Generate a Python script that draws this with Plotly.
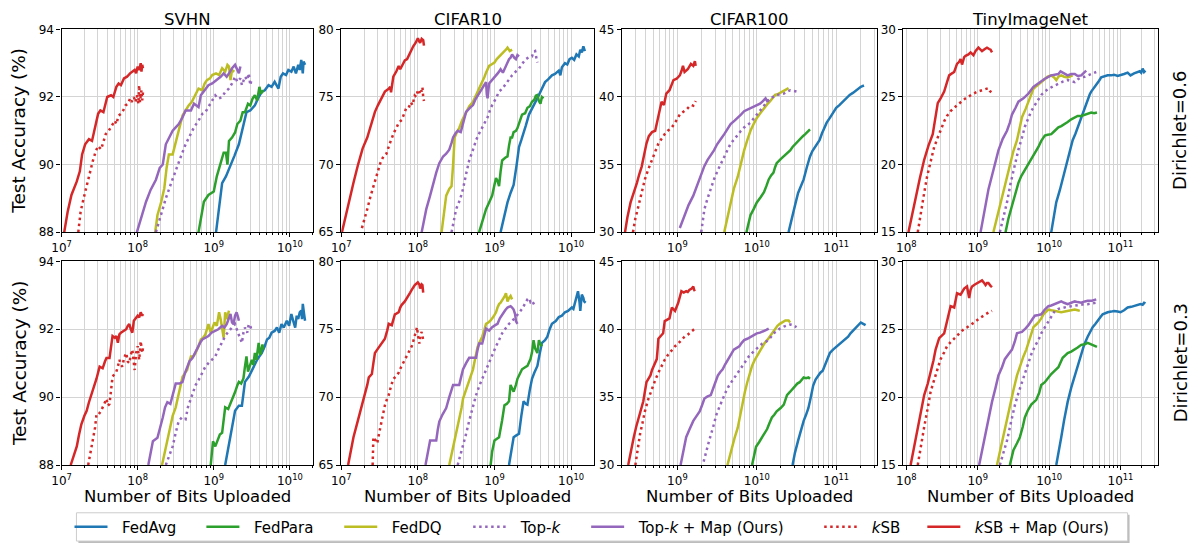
import plotly.graph_objects as go

# Each curve: (log10 of bits uploaded, test accuracy %)

# ---------------- SVHN, Dirichlet=0.6 ----------------
SVHN_06_FEDAVG = [(9.03,88.0),(9.07,88.8),(9.11,89.45),(9.16,89.65),(9.2,89.85),(9.27,90.25),(9.33,90.6),(9.38,91.1),(9.43,91.55),(9.48,91.6),(9.54,91.75),(9.58,91.95),(9.63,92.15),(9.67,92.2),(9.72,92.35),(9.76,92.3),(9.8,92.45),(9.85,92.25),(9.88,92.6),(9.91,92.7),(9.95,92.65),(9.98,92.8),(10.02,92.75),(10.05,92.9),(10.08,92.7),(10.11,92.95),(10.13,92.8),(10.15,93.1),(10.17,92.7),(10.18,93.05),(10.2,92.95)]
SVHN_06_FEDPARA = [(8.8,88.0),(8.84,88.5),(8.87,88.9),(8.93,89.1),(9.0,89.2),(9.04,89.65),(9.08,90.0),(9.13,90.35),(9.16,90.35),(9.18,90.0),(9.2,90.7),(9.24,90.8),(9.28,90.95),(9.31,91.2),(9.35,91.3),(9.38,91.55),(9.41,91.55),(9.45,91.8),(9.48,91.75),(9.51,91.95),(9.54,92.05),(9.57,91.9),(9.6,92.3),(9.62,92.1),(9.65,92.2)]
SVHN_06_FEDDQ = [(8.23,88.0),(8.26,88.5),(8.31,88.9),(8.35,89.3),(8.38,89.9),(8.41,90.3),(8.46,90.3),(8.49,90.55),(8.52,90.8),(8.56,91.2),(8.59,91.45),(8.63,91.6),(8.67,91.75),(8.71,91.85),(8.76,92.05),(8.8,92.25),(8.85,92.2),(8.88,92.4),(8.91,92.5),(8.95,92.55),(8.98,92.65),(9.03,92.7),(9.07,92.65),(9.11,92.85),(9.15,92.75),(9.18,92.95),(9.2,92.9),(9.22,92.5),(9.24,92.8),(9.27,92.75)]
SVHN_06_TOPK = [(8.24,88.0),(8.3,88.5),(8.37,89.0),(8.44,89.45),(8.5,89.85),(8.57,90.25),(8.63,90.6),(8.69,90.9),(8.74,91.1),(8.8,91.3),(8.85,91.5),(8.89,91.55),(8.93,91.7),(8.97,91.85),(9.02,92.05),(9.06,91.95),(9.11,92.0),(9.15,92.15),(9.2,92.25),(9.24,92.4),(9.28,92.6),(9.31,92.45),(9.35,92.55),(9.37,92.35),(9.41,92.6),(9.44,92.5),(9.46,92.7),(9.48,92.35),(9.5,92.55)]
SVHN_06_TOPK_MAP = [(7.99,88.0),(8.04,88.4),(8.11,88.9),(8.17,89.25),(8.24,89.55),(8.29,89.9),(8.33,90.0),(8.37,90.6),(8.42,90.85),(8.46,91.0),(8.5,91.1),(8.54,91.2),(8.59,91.4),(8.63,91.6),(8.7,91.6),(8.74,91.8),(8.8,91.7),(8.83,92.05),(8.88,92.2),(8.93,92.35),(8.98,92.4),(9.04,92.5),(9.09,92.6),(9.13,92.7),(9.17,92.6),(9.2,92.7),(9.24,92.85),(9.28,92.95),(9.31,92.8),(9.33,92.7),(9.35,92.9)]
SVHN_06_KSB = [(7.22,88.0),(7.25,88.6),(7.29,89.0),(7.33,89.4),(7.37,89.8),(7.41,90.1),(7.45,90.4),(7.48,90.55),(7.52,90.45),(7.55,90.7),(7.58,90.9),(7.62,91.0),(7.66,91.15),(7.7,91.3),(7.72,91.2),(7.75,91.45),(7.78,91.5),(7.81,91.6),(7.84,91.75),(7.87,91.8),(7.9,91.95),(7.92,91.85),(7.95,92.0),(7.97,91.85),(7.99,92.05),(8.01,91.8),(8.02,92.35),(8.03,91.85),(8.05,92.2),(8.06,91.9),(8.07,92.15)]
SVHN_06_KSB_MAP = [(7.035,88.0),(7.08,88.6),(7.13,89.1),(7.2,89.5),(7.24,89.8),(7.27,90.3),(7.31,90.6),(7.36,90.75),(7.4,90.7),(7.44,91.1),(7.48,91.5),(7.51,91.6),(7.55,91.55),(7.6,92.0),(7.65,92.05),(7.68,92.0),(7.72,92.3),(7.75,92.4),(7.78,92.35),(7.82,92.55),(7.86,92.6),(7.9,92.7),(7.93,92.75),(7.96,92.8),(7.98,92.7),(8.0,92.9),(8.02,92.8),(8.04,93.0),(8.05,92.75),(8.06,92.95),(8.07,92.85)]

# ---------------- SVHN, Dirichlet=0.3 ----------------
SVHN_03_FEDAVG = [(9.15,88.0),(9.19,88.5),(9.22,88.9),(9.25,89.3),(9.28,89.6),(9.33,89.75),(9.37,89.75),(9.39,90.1),(9.41,90.45),(9.46,90.6),(9.5,90.8),(9.54,91.0),(9.57,91.1),(9.6,91.2),(9.63,91.3),(9.67,91.5),(9.7,91.7),(9.73,91.75),(9.76,91.9),(9.8,91.95),(9.83,92.05),(9.86,91.9),(9.89,92.15),(9.92,92.05),(9.96,92.25),(9.99,92.1),(10.02,92.45),(10.05,92.2),(10.07,92.05),(10.09,92.4),(10.11,92.3),(10.13,92.5),(10.15,92.55),(10.16,92.3),(10.17,92.75),(10.19,92.4),(10.2,92.25)]
SVHN_03_FEDPARA = [(8.96,88.0),(8.98,88.5),(8.99,88.7),(9.02,88.55),(9.04,88.65),(9.08,88.9),(9.11,88.95),(9.13,89.4),(9.15,89.7),(9.19,89.65),(9.22,89.8),(9.25,90.0),(9.28,90.15),(9.31,90.35),(9.33,90.45),(9.36,90.4),(9.39,90.55),(9.41,90.9),(9.43,91.2),(9.45,90.75),(9.47,90.9),(9.5,91.1),(9.52,90.95),(9.54,91.3),(9.56,91.1),(9.59,91.6),(9.61,91.25),(9.62,91.3),(9.64,91.55),(9.65,91.4)]
SVHN_03_FEDDQ = [(8.32,88.0),(8.36,88.4),(8.39,88.7),(8.43,89.1),(8.46,89.45),(8.5,89.7),(8.52,89.9),(8.56,90.3),(8.59,90.6),(8.62,90.7),(8.65,90.8),(8.68,91.05),(8.7,91.2),(8.73,91.2),(8.76,91.3),(8.8,91.5),(8.83,91.7),(8.86,91.75),(8.89,91.85),(8.91,92.0),(8.93,92.15),(8.96,91.9),(8.98,92.0),(9.01,92.2),(9.04,92.1),(9.07,92.5),(9.09,92.3),(9.11,92.05),(9.13,91.75),(9.15,92.5),(9.17,92.3),(9.2,92.55)]
SVHN_03_TOPK = [(8.37,88.0),(8.42,88.3),(8.46,88.55),(8.5,88.95),(8.54,89.3),(8.58,89.4),(8.63,89.35),(8.66,89.7),(8.7,89.95),(8.73,90.2),(8.76,90.35),(8.8,90.5),(8.85,90.75),(8.89,90.9),(8.93,91.0),(8.97,91.1),(9.02,91.2),(9.06,91.4),(9.11,91.6),(9.15,91.8),(9.2,91.95),(9.24,92.05),(9.28,92.15),(9.31,91.95),(9.33,91.85),(9.35,91.75),(9.37,91.6),(9.39,91.9),(9.41,92.05),(9.44,91.9),(9.46,92.15),(9.48,92.1),(9.5,91.95)]
SVHN_03_TOPK_MAP = [(8.14,88.0),(8.17,88.4),(8.2,88.7),(8.26,88.8),(8.3,89.1),(8.33,89.4),(8.36,89.7),(8.39,89.85),(8.43,89.8),(8.46,90.1),(8.5,90.4),(8.55,90.4),(8.59,90.45),(8.62,90.7),(8.65,90.9),(8.68,91.05),(8.72,91.15),(8.75,91.3),(8.78,91.4),(8.82,91.6),(8.85,91.7),(8.89,91.75),(8.93,91.8),(8.97,91.9),(9.02,91.95),(9.06,92.0),(9.11,92.1),(9.14,92.05),(9.17,92.15),(9.2,92.3),(9.22,92.45),(9.24,92.2),(9.26,92.15),(9.28,92.4),(9.3,92.5),(9.32,92.35),(9.33,92.25)]
SVHN_03_KSB = [(7.35,88.0),(7.38,88.35),(7.41,88.7),(7.44,89.1),(7.46,89.5),(7.49,89.5),(7.52,89.6),(7.55,89.75),(7.57,89.85),(7.59,89.95),(7.61,89.75),(7.63,89.8),(7.65,90.2),(7.67,90.6),(7.7,90.7),(7.72,90.75),(7.74,90.9),(7.76,91.1),(7.78,90.95),(7.8,90.9),(7.82,91.15),(7.85,91.3),(7.87,91.05),(7.89,91.0),(7.91,91.25),(7.93,91.4),(7.95,91.0),(7.96,90.8),(7.98,91.3),(8.0,91.5),(8.02,91.1),(8.03,91.35),(8.04,91.65),(8.06,91.3),(8.07,91.45)]
SVHN_03_KSB_MAP = [(7.12,88.0),(7.16,88.3),(7.2,88.55),(7.23,88.9),(7.26,89.2),(7.3,89.45),(7.33,89.6),(7.36,89.85),(7.39,90.05),(7.43,90.3),(7.46,90.55),(7.5,90.9),(7.54,90.85),(7.57,91.05),(7.59,91.15),(7.63,91.15),(7.65,91.45),(7.67,91.8),(7.7,91.75),(7.72,91.8),(7.74,91.6),(7.76,91.85),(7.78,91.9),(7.82,91.95),(7.85,92.0),(7.87,92.1),(7.89,92.15),(7.91,92.0),(7.93,91.9),(7.95,92.25),(7.97,92.3),(8.0,92.4),(8.02,92.35),(8.04,92.5),(8.06,92.4),(8.07,92.45)]

# ---------------- CIFAR10, Dirichlet=0.6 ----------------
CIFAR10_06_FEDAVG = [(9.08,65.0),(9.12,66.0),(9.17,67.2),(9.21,67.9),(9.25,68.5),(9.29,70.0),(9.32,71.3),(9.35,71.8),(9.38,72.3),(9.41,72.9),(9.45,73.7),(9.48,74.0),(9.51,74.4),(9.55,74.8),(9.58,75.15),(9.62,75.6),(9.66,76.1),(9.7,76.3),(9.75,76.6),(9.79,76.7),(9.84,76.95),(9.86,76.6),(9.88,77.2),(9.92,77.5),(9.95,77.4),(9.98,77.8),(10.01,77.9),(10.04,77.75),(10.07,78.15),(10.1,78.0),(10.12,78.5),(10.14,78.3),(10.16,78.75),(10.18,78.4)]
CIFAR10_06_FEDPARA = [(8.8,65.0),(8.85,66.0),(8.89,66.7),(8.93,67.2),(8.97,67.7),(9.0,68.5),(9.02,69.0),(9.04,68.8),(9.06,68.4),(9.08,69.5),(9.1,70.3),(9.14,70.5),(9.17,70.6),(9.19,71.4),(9.21,72.0),(9.23,72.0),(9.25,72.4),(9.28,72.5),(9.3,72.7),(9.33,73.2),(9.36,73.7),(9.4,73.8),(9.43,74.2),(9.46,74.3),(9.49,74.65),(9.52,74.8),(9.54,75.1),(9.56,75.15),(9.58,74.7),(9.6,74.5),(9.62,75.0),(9.64,74.9)]
CIFAR10_06_FEDDQ = [(8.31,65.0),(8.34,66.5),(8.37,67.7),(8.41,68.2),(8.44,68.4),(8.46,70.0),(8.48,72.0),(8.51,72.4),(8.54,72.7),(8.58,73.3),(8.63,73.9),(8.67,74.3),(8.72,74.65),(8.75,75.0),(8.78,75.4),(8.81,75.8),(8.84,76.1),(8.87,76.5),(8.89,76.8),(8.91,77.0),(8.93,77.3),(8.96,77.4),(9.0,77.55),(9.03,77.8),(9.06,78.0),(9.09,78.2),(9.13,78.4),(9.15,78.5),(9.17,78.65),(9.2,78.4),(9.23,78.5)]
CIFAR10_06_TOPK = [(8.44,65.0),(8.47,66.0),(8.5,66.7),(8.55,67.4),(8.59,68.2),(8.63,69.3),(8.67,70.3),(8.72,71.1),(8.76,71.8),(8.8,72.3),(8.84,72.7),(8.88,73.1),(8.91,73.5),(8.94,74.0),(8.97,74.4),(9.02,74.9),(9.06,75.4),(9.1,75.6),(9.15,76.0),(9.19,76.3),(9.23,76.6),(9.28,76.9),(9.32,77.1),(9.36,77.45),(9.41,77.8),(9.45,77.95),(9.49,78.0),(9.51,78.35),(9.53,78.4),(9.55,77.8),(9.56,77.55)]
CIFAR10_06_TOPK_MAP = [(8.05,65.0),(8.08,65.8),(8.11,66.7),(8.16,67.7),(8.2,68.6),(8.24,69.4),(8.28,70.1),(8.33,70.6),(8.37,70.8),(8.41,71.1),(8.44,71.6),(8.46,72.0),(8.49,72.3),(8.52,72.5),(8.56,72.4),(8.6,73.3),(8.63,73.9),(8.68,74.2),(8.72,74.4),(8.75,74.8),(8.78,75.1),(8.81,75.4),(8.84,75.6),(8.87,75.9),(8.89,76.1),(8.9,75.2),(8.91,74.9),(8.93,76.0),(8.97,76.3),(9.02,76.6),(9.05,76.8),(9.08,77.05),(9.11,76.8),(9.15,77.3),(9.19,77.8),(9.21,77.9),(9.23,78.15),(9.26,77.9),(9.28,77.8),(9.3,78.1),(9.32,78.0)]
CIFAR10_06_KSB = [(7.27,65.3),(7.3,66.0),(7.34,66.7),(7.38,67.6),(7.42,68.4),(7.46,69.2),(7.49,69.8),(7.51,70.1),(7.55,70.6),(7.59,70.8),(7.63,71.5),(7.66,72.0),(7.69,72.4),(7.72,72.7),(7.75,73.1),(7.79,73.3),(7.82,73.7),(7.85,74.2),(7.88,74.2),(7.91,74.6),(7.93,74.4),(7.96,75.1),(7.98,75.0),(8.0,75.5),(8.02,75.3),(8.04,75.6),(8.05,75.4),(8.06,75.7),(8.07,75.0),(8.08,74.7)]
CIFAR10_06_KSB_MAP = [(7.01,65.0),(7.05,66.0),(7.1,67.2),(7.16,68.65),(7.22,70.0),(7.28,71.2),(7.34,72.0),(7.39,73.0),(7.44,73.9),(7.48,74.4),(7.53,74.9),(7.57,75.4),(7.62,75.6),(7.64,75.75),(7.65,75.35),(7.68,76.5),(7.72,76.9),(7.75,77.3),(7.77,77.05),(7.8,77.4),(7.83,77.7),(7.86,77.8),(7.88,78.05),(7.91,78.4),(7.94,78.75),(7.97,79.0),(8.0,79.35),(8.02,79.1),(8.03,79.0),(8.05,79.3),(8.07,79.2),(8.08,78.8)]

# ---------------- CIFAR10, Dirichlet=0.3 ----------------
CIFAR10_03_FEDAVG = [(9.19,65.0),(9.22,66.0),(9.25,67.05),(9.29,67.2),(9.32,67.3),(9.35,68.6),(9.38,69.7),(9.41,69.5),(9.43,69.45),(9.46,70.5),(9.49,71.35),(9.52,71.8),(9.56,72.3),(9.59,73.2),(9.62,74.0),(9.66,74.2),(9.69,74.45),(9.72,75.0),(9.75,75.4),(9.8,75.6),(9.84,75.9),(9.88,76.0),(9.92,76.25),(9.96,76.35),(10.01,76.6),(10.03,76.5),(10.05,76.95),(10.07,77.2),(10.09,77.8),(10.11,77.0),(10.12,76.35),(10.13,77.0),(10.14,77.55),(10.16,77.3),(10.17,77.05),(10.19,76.95)]
CIFAR10_03_FEDPARA = [(8.95,65.0),(8.97,66.0),(9.0,66.8),(9.03,66.9),(9.06,67.05),(9.1,68.3),(9.13,69.4),(9.16,69.5),(9.19,69.7),(9.21,70.9),(9.23,70.6),(9.25,70.4),(9.28,70.9),(9.3,71.35),(9.33,71.7),(9.36,72.05),(9.4,72.2),(9.43,72.3),(9.47,72.8),(9.49,73.3),(9.51,74.2),(9.53,73.6),(9.56,73.25),(9.58,74.2),(9.6,73.9),(9.62,73.75)]
CIFAR10_03_FEDDQ = [(8.41,65.0),(8.45,66.0),(8.48,66.8),(8.51,67.5),(8.54,68.2),(8.57,69.2),(8.59,69.9),(8.62,70.4),(8.65,70.9),(8.69,71.5),(8.72,72.05),(8.75,72.9),(8.78,73.7),(8.81,74.1),(8.84,74.45),(8.87,75.0),(8.89,75.4),(8.92,75.5),(8.95,75.65),(8.99,75.95),(9.02,76.25),(9.04,76.6),(9.06,76.85),(9.08,76.95),(9.1,77.1),(9.13,77.4),(9.15,77.65),(9.16,77.3),(9.17,77.05),(9.19,77.3),(9.21,77.45),(9.23,77.2)]
CIFAR10_03_TOPK = [(8.52,65.0),(8.55,65.6),(8.59,66.35),(8.63,67.3),(8.67,68.25),(8.71,69.2),(8.76,70.15),(8.8,70.8),(8.84,71.35),(8.89,72.0),(8.93,72.55),(8.97,73.2),(9.02,73.75),(9.06,74.2),(9.1,74.7),(9.15,75.1),(9.19,75.4),(9.23,75.6),(9.28,75.9),(9.32,76.2),(9.36,76.5),(9.39,76.85),(9.41,77.05),(9.43,77.2),(9.45,77.3),(9.47,77.0),(9.49,77.1),(9.51,76.9),(9.53,76.7)]
CIFAR10_03_TOPK_MAP = [(8.1,65.0),(8.13,65.9),(8.16,66.8),(8.2,66.8),(8.24,66.8),(8.26,67.6),(8.28,68.2),(8.32,68.7),(8.37,69.2),(8.41,70.0),(8.46,70.9),(8.5,70.9),(8.54,70.9),(8.57,71.6),(8.59,72.05),(8.63,72.5),(8.67,72.9),(8.72,72.9),(8.76,72.9),(8.78,73.5),(8.8,73.95),(8.84,73.95),(8.86,74.5),(8.89,75.05),(8.93,74.9),(8.97,75.15),(9.01,75.3),(9.04,75.4),(9.07,75.8),(9.1,76.1),(9.14,76.4),(9.17,76.6),(9.21,76.7),(9.23,76.6),(9.25,76.45),(9.27,76.1),(9.28,75.6),(9.3,75.4)]
CIFAR10_03_KSB = [(7.41,65.0),(7.42,67.05),(7.45,66.8),(7.47,66.6),(7.49,67.2),(7.51,67.8),(7.54,68.6),(7.57,69.4),(7.6,69.9),(7.62,70.15),(7.65,70.8),(7.68,71.35),(7.71,71.5),(7.75,71.8),(7.78,72.2),(7.81,72.55),(7.84,72.9),(7.88,73.25),(7.9,73.5),(7.92,73.75),(7.94,74.1),(7.96,74.45),(7.98,74.9),(7.99,75.15),(8.0,74.6),(8.02,73.95),(8.03,74.5),(8.05,74.8),(8.06,74.5),(8.07,74.2)]
CIFAR10_03_KSB_MAP = [(7.09,65.0),(7.12,66.0),(7.16,67.05),(7.2,67.9),(7.23,68.5),(7.26,69.2),(7.29,69.9),(7.32,70.5),(7.34,70.9),(7.36,71.45),(7.4,71.7),(7.42,72.5),(7.44,73.25),(7.47,73.5),(7.51,73.85),(7.54,74.1),(7.57,74.3),(7.6,74.9),(7.62,75.4),(7.66,75.3),(7.7,76.1),(7.72,76.15),(7.75,76.25),(7.77,76.6),(7.79,76.8),(7.83,77.05),(7.86,77.3),(7.88,77.55),(7.9,77.7),(7.92,77.9),(7.94,78.1),(7.96,78.25),(7.98,78.35),(8.0,78.45),(8.02,78.3),(8.03,78.0),(8.05,78.3),(8.06,78.25),(8.07,77.7)]

# ---------------- CIFAR100, Dirichlet=0.6 ----------------
CIFAR100_06_FEDAVG = [(10.4,30.0),(10.43,30.8),(10.46,31.5),(10.49,32.2),(10.52,32.9),(10.55,33.4),(10.59,33.9),(10.63,34.8),(10.67,35.6),(10.7,36.0),(10.73,36.3),(10.76,36.6),(10.79,36.8),(10.82,37.3),(10.85,37.75),(10.88,38.1),(10.92,38.45),(10.96,38.8),(11.0,39.2),(11.04,39.4),(11.08,39.65),(11.12,39.9),(11.17,40.15),(11.21,40.3),(11.25,40.5),(11.28,40.6),(11.31,40.75),(11.33,40.8),(11.35,40.85)]
CIFAR100_06_FEDPARA = [(9.87,30.0),(9.9,30.8),(9.92,31.25),(9.96,31.7),(10.0,32.2),(10.05,32.6),(10.09,32.95),(10.12,33.4),(10.15,33.9),(10.18,34.2),(10.21,34.4),(10.23,34.8),(10.25,35.1),(10.3,35.4),(10.34,35.6),(10.38,35.8),(10.42,36.05),(10.45,36.3),(10.48,36.5),(10.51,36.7),(10.54,36.9),(10.58,37.1),(10.61,37.25),(10.64,37.45),(10.67,37.6)]
CIFAR100_06_FEDDQ = [(9.59,30.0),(9.63,31.1),(9.67,32.2),(9.71,33.2),(9.76,34.1),(9.8,35.1),(9.84,36.05),(9.88,36.8),(9.92,37.5),(9.96,38.0),(10.0,38.45),(10.05,38.85),(10.09,39.2),(10.13,39.45),(10.17,39.7),(10.2,39.95),(10.23,40.15),(10.26,40.2),(10.29,40.3),(10.33,40.4),(10.36,40.5),(10.38,40.6),(10.4,40.65)]
CIFAR100_06_TOPK = [(9.3,30.0),(9.34,31.7),(9.38,32.5),(9.42,33.2),(9.46,33.9),(9.51,34.6),(9.55,35.1),(9.59,35.6),(9.63,36.1),(9.67,36.55),(9.72,36.9),(9.76,37.25),(9.8,37.5),(9.84,37.75),(9.88,37.95),(9.92,38.1),(9.96,38.4),(10.0,38.7),(10.04,39.05),(10.09,39.4),(10.13,39.65),(10.17,39.9),(10.21,40.0),(10.25,40.15),(10.3,40.2),(10.34,40.25),(10.38,40.4),(10.42,40.5),(10.46,40.45),(10.5,40.4)]
CIFAR100_06_TOPK_MAP = [(9.03,30.3),(9.06,30.8),(9.09,31.25),(9.14,32.0),(9.2,32.7),(9.25,33.5),(9.3,34.4),(9.34,34.9),(9.38,35.35),(9.42,35.7),(9.46,36.05),(9.5,36.5),(9.53,36.8),(9.56,37.0),(9.59,37.25),(9.63,37.6),(9.67,38.0),(9.72,38.25),(9.76,38.45),(9.8,38.7),(9.84,38.95),(9.88,39.05),(9.92,39.2),(9.96,39.3),(10.0,39.4),(10.04,39.5),(10.07,39.65),(10.09,39.8),(10.11,39.9),(10.13,39.7),(10.15,39.8)]
CIFAR100_06_KSB = [(8.44,30.0),(8.47,31.0),(8.51,31.95),(8.55,32.9),(8.59,33.9),(8.63,34.6),(8.68,35.35),(8.72,35.9),(8.76,36.55),(8.8,36.9),(8.84,37.25),(8.88,37.5),(8.93,37.75),(8.97,38.1),(9.0,38.4),(9.03,38.7),(9.06,38.85),(9.09,38.95),(9.12,39.1),(9.15,39.3),(9.18,39.4),(9.2,39.35),(9.22,39.55),(9.23,39.7)]
CIFAR100_06_KSB_MAP = [(8.34,30.0),(8.37,31.1),(8.41,32.2),(8.45,32.9),(8.49,33.65),(8.52,34.3),(8.55,34.85),(8.58,35.7),(8.61,36.55),(8.64,37.1),(8.68,37.4),(8.72,37.5),(8.74,38.1),(8.76,38.7),(8.78,39.2),(8.8,39.65),(8.83,39.4),(8.86,40.25),(8.9,40.5),(8.93,40.9),(8.95,41.25),(8.99,41.35),(9.03,41.6),(9.05,41.9),(9.07,42.3),(9.09,41.85),(9.11,41.95),(9.13,42.05),(9.15,42.25),(9.17,42.45),(9.2,42.3),(9.22,42.65),(9.23,42.3)]

# ---------------- CIFAR100, Dirichlet=0.3 ----------------
CIFAR100_03_FEDAVG = [(10.45,30.0),(10.48,30.9),(10.52,31.8),(10.55,32.5),(10.59,33.25),(10.62,33.7),(10.65,34.2),(10.68,35.0),(10.71,35.85),(10.74,36.3),(10.77,36.6),(10.8,36.8),(10.83,36.95),(10.86,37.4),(10.88,37.75),(10.9,38.0),(10.92,38.25),(10.96,38.5),(11.0,38.7),(11.04,38.9),(11.08,39.1),(11.12,39.3),(11.15,39.45),(11.18,39.7),(11.21,39.9),(11.24,40.1),(11.27,40.3),(11.29,40.4),(11.31,40.5),(11.34,40.4),(11.37,40.3)]
CIFAR100_03_FEDPARA = [(9.94,30.0),(9.97,30.8),(9.99,31.35),(10.03,31.7),(10.07,32.05),(10.1,32.4),(10.13,32.65),(10.16,33.1),(10.19,33.5),(10.22,33.7),(10.25,33.95),(10.3,34.2),(10.34,34.45),(10.36,34.8),(10.38,35.15),(10.42,35.4),(10.45,35.6),(10.48,35.85),(10.51,36.0),(10.54,36.1),(10.57,36.3),(10.59,36.45),(10.62,36.4),(10.65,36.45),(10.67,36.35)]
CIFAR100_03_FEDDQ = [(9.63,30.0),(9.66,30.7),(9.69,31.35),(9.72,32.0),(9.76,32.75),(9.79,33.7),(9.82,34.65),(9.85,35.4),(9.88,36.1),(9.91,36.7),(9.94,37.3),(9.97,37.7),(10.0,38.0),(10.04,38.4),(10.07,38.75),(10.1,39.0),(10.13,39.2),(10.16,39.45),(10.19,39.7),(10.23,40.05),(10.26,40.25),(10.29,40.4),(10.33,40.55),(10.36,40.65),(10.4,40.65),(10.42,40.5)]
CIFAR100_03_TOPK = [(9.33,30.25),(9.36,31.0),(9.4,31.8),(9.45,32.8),(9.49,33.7),(9.53,34.3),(9.57,34.9),(9.61,35.4),(9.65,35.85),(9.69,36.2),(9.73,36.6),(9.78,36.95),(9.82,37.3),(9.86,37.65),(9.9,38.0),(9.94,38.25),(9.98,38.5),(10.03,38.75),(10.07,38.95),(10.11,39.1),(10.15,39.2),(10.18,39.45),(10.21,39.7),(10.25,39.85),(10.29,40.05),(10.34,40.2),(10.38,40.3),(10.42,40.35),(10.46,40.3),(10.5,40.15)]
CIFAR100_03_TOPK_MAP = [(9.04,30.0),(9.07,31.0),(9.11,32.05),(9.15,32.6),(9.2,33.25),(9.24,33.6),(9.28,33.95),(9.31,34.4),(9.34,34.9),(9.38,35.05),(9.42,35.15),(9.46,35.8),(9.51,36.6),(9.54,36.85),(9.57,37.05),(9.6,37.4),(9.63,37.75),(9.67,38.1),(9.71,38.5),(9.74,38.6),(9.78,38.75),(9.81,39.0),(9.84,39.2),(9.88,39.3),(9.92,39.45),(9.96,39.55),(10.0,39.7),(10.04,39.75),(10.09,39.85),(10.12,39.95),(10.15,40.05)]
CIFAR100_03_KSB = [(8.47,30.0),(8.5,31.2),(8.53,32.3),(8.56,33.1),(8.59,33.95),(8.63,34.8),(8.68,35.65),(8.72,36.25),(8.76,36.8),(8.8,37.3),(8.84,37.75),(8.88,38.1),(8.93,38.5),(8.97,38.75),(9.01,38.95),(9.05,39.2),(9.09,39.45),(9.13,39.6),(9.17,39.8),(9.2,39.9),(9.22,40.05)]
CIFAR100_03_KSB_MAP = [(8.38,30.0),(8.41,31.0),(8.45,32.05),(8.48,32.8),(8.51,33.5),(8.54,34.1),(8.57,34.7),(8.59,35.4),(8.61,36.1),(8.64,36.4),(8.66,36.6),(8.68,37.0),(8.7,37.3),(8.72,37.6),(8.74,37.8),(8.75,38.5),(8.76,39.3),(8.79,39.5),(8.82,39.7),(8.84,40.6),(8.87,40.7),(8.9,40.8),(8.93,41.6),(8.95,41.5),(8.97,41.35),(9.01,41.95),(9.03,42.4),(9.05,42.8),(9.08,42.7),(9.11,42.8),(9.13,42.75),(9.15,42.9),(9.18,43.0),(9.2,43.15),(9.21,42.9),(9.22,42.8)]

# ---------------- TinyImageNet, Dirichlet=0.6 ----------------
TINY_06_FEDAVG = [(10.03,15.0),(10.06,16.1),(10.1,17.2),(10.15,18.1),(10.19,18.9),(10.22,19.6),(10.26,20.35),(10.3,21.1),(10.33,21.8),(10.37,22.3),(10.4,22.75),(10.44,23.3),(10.47,23.7),(10.51,24.3),(10.54,24.9),(10.57,25.2),(10.59,25.4),(10.62,25.6),(10.66,25.85),(10.7,26.2),(10.73,26.45),(10.78,26.55),(10.82,26.6),(10.87,26.6),(10.91,26.65),(10.96,26.55),(11.0,26.6),(11.05,26.7),(11.1,26.8),(11.14,26.6),(11.19,26.75),(11.23,26.85),(11.27,26.9),(11.29,26.8),(11.31,27.1),(11.33,26.85),(11.35,26.95)]
TINY_06_FEDPARA = [(9.39,15.0),(9.43,16.0),(9.48,16.95),(9.52,17.8),(9.57,18.65),(9.61,19.15),(9.66,19.6),(9.7,19.95),(9.75,20.35),(9.8,20.8),(9.85,21.3),(9.89,21.75),(9.94,22.15),(9.98,22.2),(10.03,22.25),(10.08,22.5),(10.13,22.75),(10.17,22.85),(10.22,23.0),(10.26,23.15),(10.31,23.35),(10.35,23.45),(10.4,23.6),(10.45,23.6),(10.5,23.7),(10.54,23.75),(10.59,23.85),(10.63,23.8),(10.67,23.85)]
TINY_06_FEDDQ = [(9.22,15.0),(9.28,16.3),(9.34,17.7),(9.4,19.0),(9.45,20.1),(9.5,21.0),(9.55,21.8),(9.59,22.7),(9.62,23.5),(9.67,24.1),(9.71,24.65),(9.75,25.2),(9.78,25.6),(9.82,25.8),(9.87,26.0),(9.91,26.2),(9.94,26.35),(9.98,26.5),(10.03,26.6),(10.07,26.45),(10.1,26.25),(10.13,26.5),(10.17,26.6),(10.21,26.5),(10.26,26.45),(10.3,26.55),(10.33,26.6)]
TINY_06_TOPK = [(9.31,15.0),(9.36,16.1),(9.41,17.2),(9.46,18.6),(9.52,20.1),(9.57,21.1),(9.62,22.0),(9.66,22.8),(9.71,23.45),(9.75,23.95),(9.8,24.4),(9.85,24.8),(9.89,25.15),(9.94,25.4),(9.99,25.6),(10.06,25.8),(10.13,26.0),(10.2,26.15),(10.26,26.25),(10.31,26.2),(10.36,26.1),(10.4,26.3),(10.45,26.45),(10.5,26.5),(10.54,26.6),(10.6,26.7),(10.66,26.85)]
TINY_06_TOPK_MAP = [(9.04,15.0),(9.09,16.5),(9.15,18.15),(9.22,19.6),(9.29,21.05),(9.35,21.9),(9.41,22.5),(9.45,23.1),(9.48,23.7),(9.53,24.2),(9.57,24.65),(9.64,24.9),(9.71,25.25),(9.78,25.75),(9.85,26.0),(9.94,26.35),(10.03,26.6),(10.08,26.65),(10.13,26.7),(10.16,26.9),(10.19,26.8),(10.23,26.65),(10.26,26.6),(10.31,26.7),(10.36,26.7),(10.4,26.55),(10.45,26.6),(10.49,26.8),(10.52,26.95)]
TINY_06_KSB = [(8.16,15.0),(8.2,16.4),(8.25,17.9),(8.29,19.1),(8.34,20.3),(8.39,21.3),(8.44,22.0),(8.48,22.6),(8.53,23.2),(8.57,23.6),(8.62,23.95),(8.67,24.2),(8.71,24.4),(8.77,24.65),(8.83,24.9),(8.89,25.1),(8.94,25.25),(9.0,25.4),(9.06,25.5),(9.11,25.6),(9.15,25.65),(9.17,25.45),(9.19,25.35)]
TINY_06_KSB_MAP = [(8.03,15.0),(8.08,16.3),(8.13,17.7),(8.19,19.0),(8.25,20.35),(8.31,21.4),(8.37,22.25),(8.41,23.5),(8.44,24.55),(8.48,24.9),(8.53,25.4),(8.57,26.1),(8.6,26.6),(8.64,26.75),(8.67,26.85),(8.71,27.45),(8.74,27.6),(8.76,27.8),(8.78,27.4),(8.81,27.95),(8.83,28.05),(8.87,28.15),(8.9,28.3),(8.94,28.1),(8.97,28.4),(9.01,28.65),(9.04,28.45),(9.06,28.4),(9.1,28.55),(9.13,28.65),(9.16,28.55),(9.18,28.5),(9.2,28.3)]

# ---------------- TinyImageNet, Dirichlet=0.3 ----------------
TINY_03_FEDAVG = [(10.1,15.0),(10.13,16.0),(10.17,17.05),(10.21,18.3),(10.26,19.65),(10.31,20.7),(10.36,21.6),(10.4,22.4),(10.45,23.25),(10.49,23.85),(10.54,24.45),(10.58,24.85),(10.61,25.15),(10.65,25.4),(10.68,25.65),(10.72,25.9),(10.75,26.1),(10.79,26.2),(10.82,26.25),(10.87,26.3),(10.91,26.35),(10.96,26.3),(11.0,26.25),(11.05,26.4),(11.1,26.6),(11.15,26.65),(11.19,26.7),(11.24,26.75),(11.28,26.85),(11.31,26.8),(11.33,26.95),(11.35,26.9)]
TINY_03_FEDPARA = [(9.45,15.0),(9.48,15.7),(9.5,16.1),(9.55,16.6),(9.59,17.05),(9.63,17.8),(9.66,18.5),(9.7,19.0),(9.75,19.45),(9.79,19.65),(9.82,19.8),(9.86,20.3),(9.89,20.9),(9.94,21.1),(9.99,21.45),(10.03,21.7),(10.08,21.95),(10.13,22.2),(10.16,22.55),(10.19,22.9),(10.23,23.1),(10.26,23.25),(10.31,23.35),(10.36,23.5),(10.4,23.65),(10.45,23.85),(10.5,23.9),(10.54,24.0),(10.58,23.9),(10.61,23.85),(10.64,23.8),(10.67,23.7)]
TINY_03_FEDDQ = [(9.27,15.0),(9.32,16.2),(9.36,17.3),(9.41,18.4),(9.45,19.45),(9.5,20.5),(9.55,21.6),(9.6,22.4),(9.64,23.0),(9.68,23.5),(9.71,24.0),(9.75,24.7),(9.78,25.15),(9.82,25.35),(9.85,25.5),(9.89,25.8),(9.92,26.1),(9.96,26.3),(9.99,26.45),(10.03,26.4),(10.08,26.35),(10.13,26.3),(10.17,26.25),(10.22,26.3),(10.26,26.35),(10.31,26.4),(10.36,26.45),(10.4,26.4),(10.43,26.35)]
TINY_03_TOPK = [(9.31,15.0),(9.36,15.9),(9.41,16.8),(9.46,18.0),(9.52,19.4),(9.57,20.3),(9.62,21.1),(9.66,21.8),(9.71,22.55),(9.75,23.15),(9.8,23.75),(9.85,24.2),(9.89,24.7),(9.94,25.15),(9.99,25.65),(10.03,26.0),(10.08,26.35),(10.13,26.5),(10.19,26.6),(10.25,26.65),(10.31,26.7),(10.38,26.75),(10.45,26.85),(10.5,26.85),(10.54,26.85),(10.6,26.9),(10.66,26.95)]
TINY_03_TOPK_MAP = [(9.02,15.0),(9.06,16.1),(9.11,17.3),(9.15,18.5),(9.2,19.65),(9.25,20.7),(9.29,21.6),(9.34,22.2),(9.38,22.8),(9.43,23.15),(9.48,23.5),(9.52,24.1),(9.55,24.7),(9.58,24.75),(9.62,24.8),(9.66,25.0),(9.71,25.3),(9.76,25.7),(9.8,26.0),(9.85,26.05),(9.89,26.1),(9.94,26.45),(9.99,26.7),(10.03,26.75),(10.08,26.85),(10.12,26.95),(10.17,27.05),(10.21,26.95),(10.26,26.85),(10.31,26.95),(10.36,27.05),(10.4,27.0),(10.45,26.95),(10.5,27.05),(10.54,27.1),(10.6,27.1),(10.66,27.2)]
TINY_03_KSB = [(8.16,15.0),(8.2,16.4),(8.25,17.8),(8.3,19.2),(8.34,20.4),(8.38,21.1),(8.41,21.6),(8.45,22.2),(8.48,22.8),(8.53,23.3),(8.57,23.75),(8.62,24.05),(8.67,24.3),(8.72,24.6),(8.78,24.9),(8.84,25.1),(8.9,25.3),(8.95,25.5),(9.01,25.75),(9.06,25.95),(9.11,26.1),(9.16,26.25),(9.2,26.35)]
TINY_03_KSB_MAP = [(8.06,15.0),(8.11,16.4),(8.16,17.8),(8.2,19.0),(8.25,20.15),(8.3,21.0),(8.34,21.8),(8.38,22.7),(8.41,23.5),(8.46,24.35),(8.53,24.7),(8.57,25.65),(8.6,26.3),(8.62,26.7),(8.67,26.6),(8.71,27.65),(8.76,27.55),(8.81,28.0),(8.85,28.15),(8.87,27.5),(8.88,27.3),(8.9,27.9),(8.92,28.15),(8.96,28.3),(8.99,28.4),(9.03,28.5),(9.06,28.6),(9.09,28.4),(9.11,28.25),(9.13,28.4),(9.15,28.4),(9.18,28.2),(9.2,28.1)]

# ---------------- labels / axes ----------------
DATASETS = ["SVHN", "CIFAR10", "CIFAR100", "TinyImageNet"]
DIRICHLET = ["Dirichlet=0.6", "Dirichlet=0.3"]
METHODS = ["FedAvg", "FedPara", "FedDQ", "Top-<i>k</i>", "Top-<i>k</i> + Map (Ours)",
           "<i>k</i>SB", "<i>k</i>SB + Map (Ours)"]
COLORS = ["#1f77b4", "#2ca02c", "#bcbd22", "#9467bd", "#9467bd", "#d62728", "#d62728"]
DOTTED = [False, False, False, True, False, True, False]
X_RANGES = [(7.0, 10.31), (7.0, 10.30), (8.30, 11.51), (7.96, 11.53)]
X_DECADES = [[7, 8, 9, 10], [7, 8, 9, 10], [9, 10, 11], [8, 9, 10, 11]]
Y_TICKS = [[88, 90, 92, 94], [65, 70, 75, 80], [30, 35, 40, 45], [15, 20, 25, 30]]

PANEL_SERIES = {
    (0, 0): [SVHN_06_FEDAVG, SVHN_06_FEDPARA, SVHN_06_FEDDQ, SVHN_06_TOPK, SVHN_06_TOPK_MAP, SVHN_06_KSB, SVHN_06_KSB_MAP],
    (0, 1): [CIFAR10_06_FEDAVG, CIFAR10_06_FEDPARA, CIFAR10_06_FEDDQ, CIFAR10_06_TOPK, CIFAR10_06_TOPK_MAP, CIFAR10_06_KSB, CIFAR10_06_KSB_MAP],
    (0, 2): [CIFAR100_06_FEDAVG, CIFAR100_06_FEDPARA, CIFAR100_06_FEDDQ, CIFAR100_06_TOPK, CIFAR100_06_TOPK_MAP, CIFAR100_06_KSB, CIFAR100_06_KSB_MAP],
    (0, 3): [TINY_06_FEDAVG, TINY_06_FEDPARA, TINY_06_FEDDQ, TINY_06_TOPK, TINY_06_TOPK_MAP, TINY_06_KSB, TINY_06_KSB_MAP],
    (1, 0): [SVHN_03_FEDAVG, SVHN_03_FEDPARA, SVHN_03_FEDDQ, SVHN_03_TOPK, SVHN_03_TOPK_MAP, SVHN_03_KSB, SVHN_03_KSB_MAP],
    (1, 1): [CIFAR10_03_FEDAVG, CIFAR10_03_FEDPARA, CIFAR10_03_FEDDQ, CIFAR10_03_TOPK, CIFAR10_03_TOPK_MAP, CIFAR10_03_KSB, CIFAR10_03_KSB_MAP],
    (1, 2): [CIFAR100_03_FEDAVG, CIFAR100_03_FEDPARA, CIFAR100_03_FEDDQ, CIFAR100_03_TOPK, CIFAR100_03_TOPK_MAP, CIFAR100_03_KSB, CIFAR100_03_KSB_MAP],
    (1, 3): [TINY_03_FEDAVG, TINY_03_FEDPARA, TINY_03_FEDDQ, TINY_03_TOPK, TINY_03_TOPK_MAP, TINY_03_KSB, TINY_03_KSB_MAP],
}

W, H = 1198, 550
COL_PX = [(52, 306), (334, 589), (617, 874), (901, 1158)]
ROW_PX = [(23, 231), (261, 470)]
FONT = "DejaVu Sans"
GRID = "#d4d4d4"

# legend row: left edge (px) of each entry's line sample, and the frame around it
LEGEND_SAMPLE_X = [73, 206, 345, 475, 594, 829, 933]
LEGEND_BOX = (67, 519, 1127, 548)
LEGEND_MID_Y = 533.5
LEGEND_NUDGE = -8

fig = go.Figure()
layout = dict(
    width=W, height=H, margin=dict(l=0, r=0, t=0, b=0),
    paper_bgcolor="white", plot_bgcolor="white",
    font=dict(family=FONT, color="black", size=12),
    showlegend=True,
)
for i in range(len(METHODS)):
    key = "legend" if i == 0 else "legend%d" % (i + 1)
    layout[key] = dict(orientation="h",
                       x=(LEGEND_SAMPLE_X[i] - 5 + LEGEND_NUDGE) / W, xanchor="left",
                       y=1 - LEGEND_MID_Y / H, yanchor="middle",
                       bgcolor="rgba(0,0,0,0)", borderwidth=0,
                       font=dict(family=FONT, size=15), itemwidth=33)
annotations = []

n = 0
for r in range(2):
    for c in range(4):
        n += 1
        sfx = "" if n == 1 else str(n)
        x0, x1 = COL_PX[c]
        yt, yb = ROW_PX[r]
        lo, hi = X_RANGES[c]
        major = [10.0 ** d for d in X_DECADES[c]]
        minor_vals = [m * 10.0 ** d for d in range(7, 12) for m in range(2, 10)]
        layout["xaxis" + sfx] = dict(
            domain=[x0 / W, x1 / W], anchor="y" + sfx, type="log", range=[lo, hi],
            tickmode="array", tickvals=major,
            ticktext=["10<sup>%d</sup>" % d for d in X_DECADES[c]],
            ticks="outside", ticklen=4, tickwidth=1, tickcolor="black",
            tickfont=dict(family=FONT, size=12),
            showgrid=True, gridcolor=GRID, gridwidth=1.4,
            minor=dict(tickmode="array", tickvals=minor_vals, showgrid=True,
                       gridcolor=GRID, gridwidth=1.4, ticks="outside", ticklen=2,
                       tickcolor="black"),
            showline=True, linecolor="black", linewidth=1.3, mirror=True,
            zeroline=False,
        )
        layout["yaxis" + sfx] = dict(
            domain=[1 - yb / H, 1 - yt / H], anchor="x" + sfx,
            range=[Y_TICKS[c][0], Y_TICKS[c][-1]],
            tickmode="array", tickvals=Y_TICKS[c],
            ticks="outside", ticklen=4, tickwidth=1, tickcolor="black",
            tickfont=dict(family=FONT, size=12),
            showgrid=True, gridcolor=GRID, gridwidth=1.4,
            showline=True, linecolor="black", linewidth=1.3, mirror=True,
            zeroline=False,
        )
        for i, series in enumerate(PANEL_SERIES[(r, c)]):
            xs = [10.0 ** p[0] for p in series]
            ys = [p[1] for p in series]
            fig.add_trace(go.Scatter(
                x=xs, y=ys, mode="lines", name="&nbsp;&nbsp;" + METHODS[i],
                legend="legend" if i == 0 else "legend%d" % (i + 1),
                legendgroup=METHODS[i], showlegend=(n == 1),
                line=dict(color=COLORS[i], width=2.5,
                          dash="2.5px,3.5px" if DOTTED[i] else "solid"),
                xaxis="x" + sfx, yaxis="y" + sfx,
            ))

# column titles
for c, name in enumerate(DATASETS):
    x0, x1 = COL_PX[c]
    annotations.append(dict(text=name, x=(x0 + x1) / 2 / W, y=1 - 13 / H,
                            xref="paper", yref="paper", showarrow=False,
                            xanchor="center", yanchor="middle",
                            font=dict(family=FONT, size=16.5)))
# x axis titles under the bottom row
for c in range(4):
    x0, x1 = COL_PX[c]
    annotations.append(dict(text="Number of Bits Uploaded", x=(x0 + x1) / 2 / W,
                            y=1 - 502 / H, xref="paper", yref="paper", showarrow=False,
                            xanchor="center", yanchor="middle",
                            font=dict(family=FONT, size=16.5)))
# y axis titles and row labels
for r in range(2):
    yt, yb = ROW_PX[r]
    ym = 1 - (yt + yb) / 2 / H
    annotations.append(dict(text="Test Accuracy (%)", x=9 / W, y=ym, xref="paper",
                            yref="paper", showarrow=False, textangle=-90,
                            xanchor="center", yanchor="middle",
                            font=dict(family=FONT, size=18.5)))
    annotations.append(dict(text=DIRICHLET[r], x=1180 / W, y=ym, xref="paper",
                            yref="paper", showarrow=False, textangle=-90,
                            xanchor="center", yanchor="middle",
                            font=dict(family=FONT, size=18)))

# legend frame with a soft drop shadow
bx0, by0, bx1, by1 = LEGEND_BOX
layout["shapes"] = [
    dict(type="rect", xref="paper", yref="paper", layer="above",
         x0=(bx0 + 2) / W, x1=(bx1 + 2) / W, y0=1 - (by1 + 2) / H, y1=1 - (by0 + 2) / H,
         line=dict(width=0), fillcolor="#bdbdbd"),
    dict(type="rect", xref="paper", yref="paper", layer="above",
         x0=bx0 / W, x1=bx1 / W, y0=1 - by1 / H, y1=1 - by0 / H,
         line=dict(color="#cccccc", width=1), fillcolor="white"),
]
layout["annotations"] = annotations
fig.update_layout(**layout)
fig.write_html("out.html")
